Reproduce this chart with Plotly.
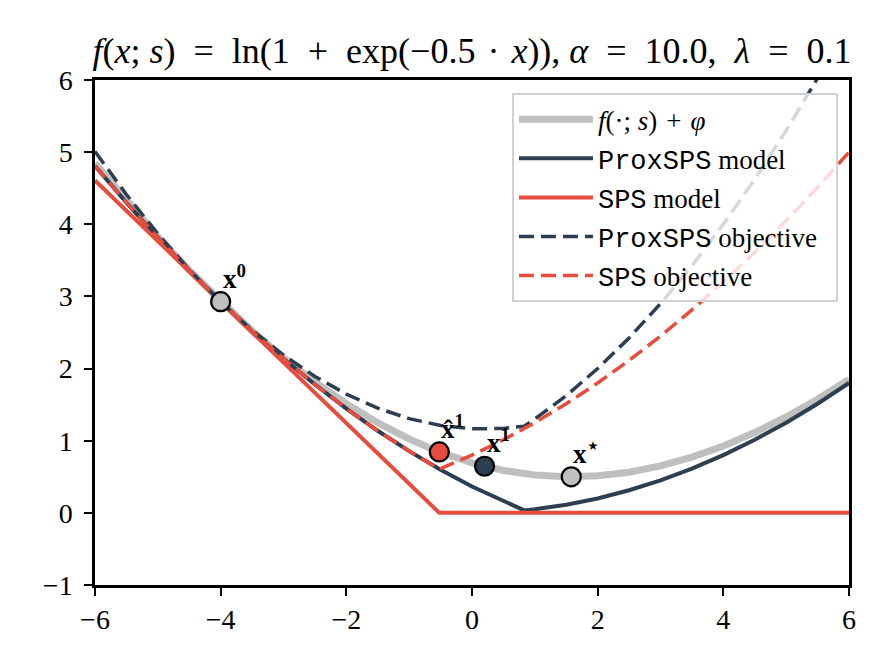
"""
ProxSPS vs SPS step on a 1-d logistic loss with l2 regularization
"""

import plotly.graph_objects as go

# sample grid
x_grid = [-6.0, -5.5, -5.0, -4.5, -4.0, -3.5, -3.0, -2.5, -2.0, -1.5, -1.0, -0.5,
          0.0, 0.5, 1.0, 1.5, 2.0, 2.5, 3.0, 3.5, 4.0, 4.5, 5.0, 5.5, 6.0]
f_phi_y = [4.849, 4.325, 3.829, 3.363, 2.927, 2.523, 2.151, 1.814, 1.513, 1.249, 1.024, 0.838,
           0.693, 0.588, 0.524, 0.499, 0.513, 0.564, 0.651, 0.773, 0.927, 1.113, 1.329, 1.575, 1.849]

# ProxSPS model / objective (kink where the truncated linear part hits zero)
prox_x = [-6.0, -5.5, -5.0, -4.5, -4.0, -3.5, -3.0, -2.5, -2.0, -1.5, -1.0, -0.5,
          0.0, 0.5, 0.83, 1.0, 1.5, 2.0, 2.5, 3.0, 3.5, 4.0, 4.5, 5.0, 5.5, 6.0]
prox_model_y = [4.808, 4.300, 3.817, 3.360, 2.927, 2.519, 2.137, 1.779, 1.446, 1.138, 0.856, 0.598,
                0.365, 0.158, 0.034, 0.050, 0.113, 0.200, 0.313, 0.450, 0.613, 0.800, 1.013, 1.250, 1.513, 1.800]
prox_obj_y = [5.008, 4.413, 3.867, 3.372, 2.927, 2.532, 2.187, 1.891, 1.646, 1.451, 1.306, 1.211,
              1.165, 1.170, 1.201, 1.300, 1.625, 2.000, 2.425, 2.900, 3.425, 4.000, 4.625, 5.300, 6.025, 6.800]

# SPS model / objective
sps_model_x = [-6.0, -0.52, 6.0]
sps_model_y = [4.608, 0.0, 0.0]
sps_obj_x = [-6.0, -5.5, -5.0, -4.5, -4.0, -3.5, -3.0, -2.5, -2.0, -1.5, -1.0, -0.52,
             0.0, 0.5, 1.0, 1.5, 2.0, 2.5, 3.0, 3.5, 4.0, 4.5, 5.0, 5.5, 6.0]
sps_obj_y = [4.808, 4.300, 3.817, 3.360, 2.927, 2.519, 2.137, 1.779, 1.446, 1.138, 0.856, 0.606,
             0.800, 1.013, 1.250, 1.513, 1.800, 2.113, 2.450, 2.813, 3.200, 3.613, 4.050, 4.513, 5.000]

# iterates
iter_x = [-4.0, -0.52, 0.20, 1.58]
iter_y = [2.927, 0.844, 0.646, 0.499]
iter_labels = ['<b>x<sup>0</sup></b>', '<b>x\u0302<sup>1</sup></b>',
               '<b>x<sup>1</sup></b>', '<b>x<sup>\u22c6</sup></b>']

NAVY = '#2c3e50'
RED = '#e74c3c'
GRAY = '#bfbfbf'
SERIF = 'Liberation Serif'
MONO = '<span style="font-family:Liberation Mono">%s</span>'
SP = '\u2002'  # en space, close to the math spacing round = and +
SP_SMALL = '\u2004'

iter_colors = [GRAY, RED, NAVY, GRAY]

fig = go.Figure()

fig.add_trace(go.Scatter(
    x=x_grid, y=f_phi_y, mode='lines', line=dict(color=GRAY, width=7),
    name='<i>f</i>(\u00b7; <i>s</i>)' + SP_SMALL + '+' + SP_SMALL + '<i>\u03c6</i>', legendgroup='a'))
fig.add_trace(go.Scatter(
    x=prox_x, y=prox_model_y, mode='lines', line=dict(color=NAVY, width=4),
    name=MONO % 'ProxSPS' + ' model', legendgroup='b'))
fig.add_trace(go.Scatter(
    x=sps_model_x, y=sps_model_y, mode='lines', line=dict(color=RED, width=4),
    name=MONO % 'SPS' + ' model', legendgroup='c'))
fig.add_trace(go.Scatter(
    x=prox_x, y=prox_obj_y, mode='lines', line=dict(color=NAVY, width=3.5, dash='15px,7px'),
    name=MONO % 'ProxSPS' + ' objective\u2002', legendgroup='d'))
fig.add_trace(go.Scatter(
    x=sps_obj_x, y=sps_obj_y, mode='lines', line=dict(color=RED, width=3.5, dash='15px,7px'),
    name=MONO % 'SPS' + ' objective', legendgroup='e'))

fig.add_trace(go.Scatter(
    x=iter_x, y=iter_y, mode='markers', showlegend=False,
    marker=dict(size=19, color=iter_colors, line=dict(color='black', width=2.2)),
    cliponaxis=False))

for xi, yi, lab in zip(iter_x, iter_y, iter_labels):
    fig.add_annotation(x=xi, y=yi, text=lab, showarrow=False,
                       xanchor='left', yanchor='bottom', xshift=0, yshift=6,
                       font=dict(family=SERIF, size=27, color='black'))

title_text = ('<i>f</i>(<i>x</i>; <i>s</i>)' + SP + '=' + SP + 'ln(1' + SP + '+' + SP
              + 'exp(\u22120.5' + SP_SMALL + '\u00b7' + SP_SMALL + '<i>x</i>)), <i>\u03b1</i>' + SP + '='
              + SP + '10.0,' + SP + '<i>\u03bb</i>' + SP + '=' + SP + '0.1')

# page body has an 8px margin, so the figure is sized 8px smaller
fig.update_layout(
    width=883, height=660,
    margin=dict(l=87, r=42, t=72, b=83),
    paper_bgcolor='white', plot_bgcolor='white',
    font=dict(family=SERIF, size=28, color='black'),
    title=dict(
        text=title_text,
        x=0.5, xref='paper', xanchor='center',
        y=1, yref='paper', yanchor='bottom', pad=dict(b=17),
        font=dict(family=SERIF, size=36, color='black')),
    legend=dict(
        x=0.553, y=0.974, xanchor='left', yanchor='top',
        bgcolor='rgba(255,255,255,0.8)', bordercolor='#d0d0d0', borderwidth=2,
        font=dict(family=SERIF, size=27), itemwidth=74, tracegroupgap=1),
    showlegend=True,
)

fig.update_xaxes(range=[-6, 6], tickvals=[-6, -4, -2, 0, 2, 4, 6],
                 showgrid=False, zeroline=False, showline=True, linecolor='black', linewidth=2.5,
                 mirror=True, ticks='outside', ticklen=8, tickwidth=2, tickcolor='black')
fig.update_yaxes(range=[-1, 6], tickvals=[-1, 0, 1, 2, 3, 4, 5, 6],
                 showgrid=False, zeroline=False, showline=True, linecolor='black', linewidth=2.5,
                 mirror=True, ticks='outside', ticklen=8, tickwidth=2, tickcolor='black',
                 ticklabelstandoff=6)

fig.write_html("out.html")
